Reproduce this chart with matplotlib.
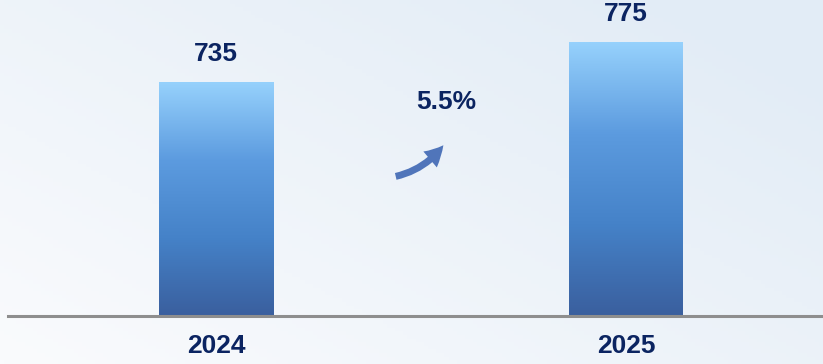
import numpy as np
import matplotlib
matplotlib.use("Agg")
import matplotlib.pyplot as plt
from matplotlib.colors import LinearSegmentedColormap
from matplotlib.patches import FancyArrowPatch

categories = ["2024", "2025"]
values = [735, 775]
growth_label = "5.5%"

W, H, DPI = 823, 364, 100
fig = plt.figure(figsize=(W / DPI, H / DPI), dpi=DPI)

# background gradient
bg = fig.add_axes([0, 0, 1, 1])
bg.set_axis_off()
xx, yy = np.meshgrid(np.linspace(0, 1, 200), np.linspace(0, 1, 100))
t = np.clip(0.6 * xx + 0.5 * yy, 0, 1)
c0 = np.array([0xFA, 0xFB, 0xFD]) / 255
c1 = np.array([0xE2, 0xEC, 0xF6]) / 255
img = c0[None, None, :] * (1 - t[..., None]) + c1[None, None, :] * t[..., None]
bg.imshow(img, origin="lower", extent=[0, 1, 0, 1], aspect="auto")
bg.set_xlim(0, 1)
bg.set_ylim(0, 1)

# main axes
left_px, base_px = 8, 316
ax = fig.add_axes([left_px / W, (H - base_px) / H, 1 - left_px / W, base_px / H])
ax.patch.set_alpha(0)
ymin = 500
px_per_unit = 0.995
ax.set_ylim(ymin, ymin + base_px / px_per_unit)
xc0 = 216
unit = 410
ax.set_xlim(-(xc0 - left_px) / unit, (W - xc0) / unit)

x = np.arange(len(categories))
width = 114 / unit
bars = ax.bar(x, values, width=width, bottom=0, color="none", zorder=2)

cmap = LinearSegmentedColormap.from_list(
    "barg", ["#3A5F9E", "#4582C8", "#5C9BDF", "#96D1FC"])
grad = np.linspace(0, 1, 256)[:, None]
for b in bars:
    x0 = b.get_x()
    ax.imshow(grad, cmap=cmap, origin="lower", aspect="auto",
              extent=[x0, x0 + b.get_width(), ymin, b.get_height()], zorder=2)

for b, v in zip(bars, values):
    ax.annotate(f"{v}", (b.get_x() + b.get_width() / 2, v),
                xytext=(0, 16), textcoords="offset pixels",
                ha="center", va="bottom", fontsize=19, fontweight="bold",
                color="#0B2461", family="Liberation Sans")

ax.set_xticks(x)
ax.set_xticklabels(categories, fontsize=19, fontweight="bold",
                   color="#0B2461", family="Liberation Sans")
ax.tick_params(axis="x", length=0, pad=13)
ax.set_yticks([])
for s in ["top", "right", "left"]:
    ax.spines[s].set_visible(False)
ax.spines["bottom"].set_color("#8E8E8E")
ax.spines["bottom"].set_linewidth(2.2)

# growth label and arrow
mid = (x[0] + x[1]) / 2
ax.text(mid + 25 / unit, ymin + (base_px - 102) / px_per_unit, growth_label,
        ha="center", va="center", fontsize=19, fontweight="bold",
        color="#0B2461", family="Liberation Sans")
arr = FancyArrowPatch(
    (mid - 28 / unit, ymin + (base_px - 177) / px_per_unit),
    (mid + 24 / unit, ymin + (base_px - 143) / px_per_unit),
    connectionstyle="arc3,rad=0.2",
    arrowstyle="simple,head_length=14,head_width=15,tail_width=5",
    mutation_scale=1, color="#3F68B4", alpha=0.9, lw=0, zorder=3)
ax.add_patch(arr)

fig.savefig("out.png", dpi=DPI)
